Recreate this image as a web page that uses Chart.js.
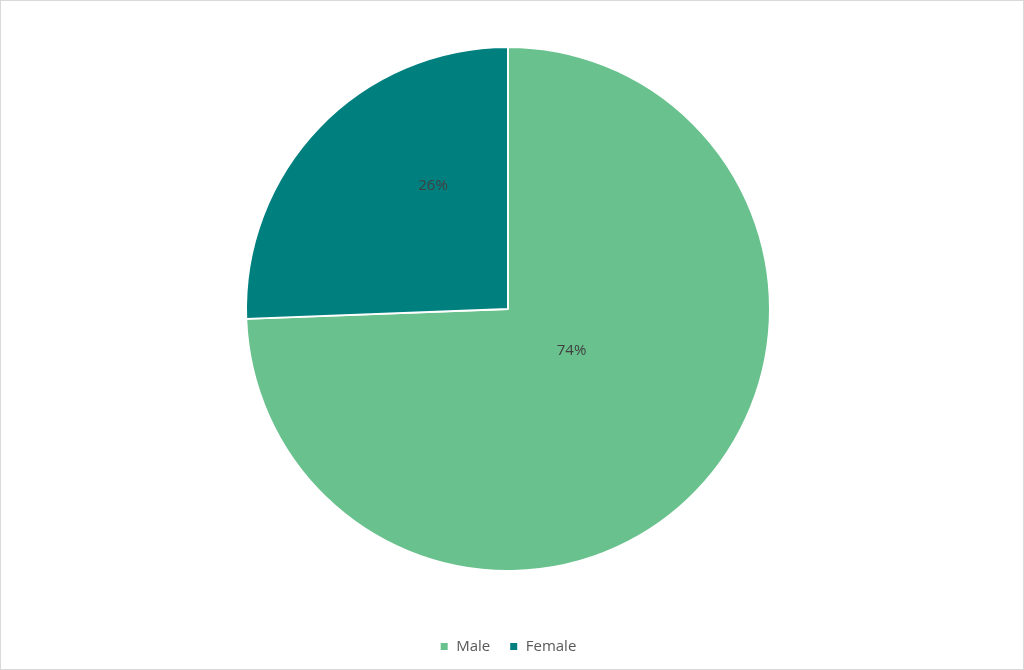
<!DOCTYPE html>
<html>
<head>
<meta charset="utf-8">
<script src="https://cdn.jsdelivr.net/npm/chart.js@4"></script>
<style>
  html, body { margin: 0; padding: 0; background: #fff; }
  #wrap { width: 1024px; height: 670px; box-sizing: border-box; border: 1px solid #d9d9d9; overflow: hidden; }
  canvas { display: block; margin-top: -3px; }
</style>
</head>
<body>
<div id="wrap"><canvas id="chart" width="1022" height="668"></canvas></div>
<script>
'use strict';

// chart data (percent of respondents)
const categories = ['Male', 'Female'];
const shares = [74.4, 25.6];
const sliceColors = ['#69c18d', '#007f7f'];

// where to put each % label inside its slice (fraction of angle, fraction of radius)
const labelAngleFrac = [0.46, 0.66];
const labelRadiusFrac = [0.29, 0.55];

const sliceLabels = {
  id: 'sliceLabels',
  afterDatasetsDraw(chart) {
    const ctx = chart.ctx;
    const meta = chart.getDatasetMeta(0);
    ctx.save();
    ctx.font = '15px "Open Sans", sans-serif';
    ctx.fillStyle = '#404040';
    ctx.textAlign = 'center';
    ctx.textBaseline = 'middle';
    meta.data.forEach(function (arc, i) {
      let p = arc.getProps(['x', 'y', 'startAngle', 'endAngle', 'outerRadius'], true);
      let a = p.startAngle + (p.endAngle - p.startAngle) * labelAngleFrac[i];
      let r = p.outerRadius * labelRadiusFrac[i];
      ctx.fillText(Math.round(shares[i]) + '%', p.x + Math.cos(a) * r, p.y + Math.sin(a) * r);
    });
    ctx.restore();
  }
};

const ctx = document.getElementById('chart').getContext('2d');

let myChart = new Chart(ctx, {
  type: 'pie',
  data: {
    labels: categories,
    datasets: [{
      data: shares,
      backgroundColor: sliceColors,
      borderColor: '#ffffff',
      borderWidth: 2,
      radius: 262
    }]
  },
  options: {
    responsive: false,
    animation: false,
    layout: { padding: { top: 0, bottom: 2, left: 0, right: 8 } },
    plugins: {
      tooltip: { enabled: false },
      legend: {
        position: 'bottom',
        labels: {
          boxWidth: 9,
          boxHeight: 9,
          padding: 19,
          color: '#595959',
          font: { family: '"Open Sans", sans-serif', size: 15 }
        }
      }
    }
  },
  plugins: [sliceLabels]
});
</script>
</body>
</html>
